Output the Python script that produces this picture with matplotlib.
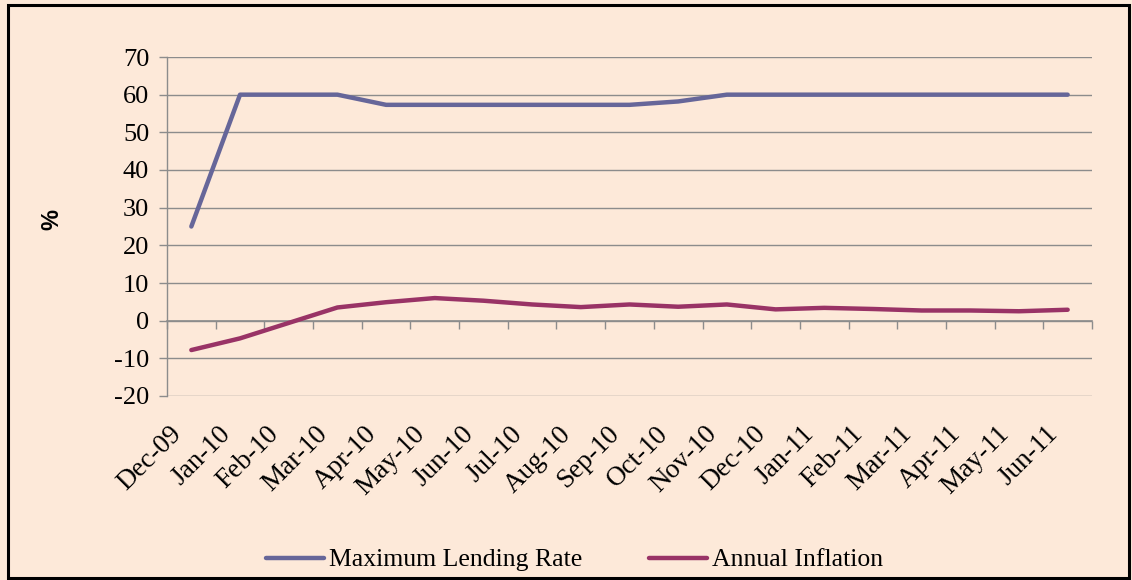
import matplotlib
matplotlib.use("Agg")
import matplotlib.pyplot as plt
import matplotlib.transforms as mtransforms
from matplotlib.patches import Rectangle

months = ["Dec-09", "Jan-10", "Feb-10", "Mar-10", "Apr-10", "May-10", "Jun-10",
          "Jul-10", "Aug-10", "Sep-10", "Oct-10", "Nov-10", "Dec-10", "Jan-11",
          "Feb-11", "Mar-11", "Apr-11", "May-11", "Jun-11"]
lending_rate = [25, 60, 60, 60, 57.3, 57.3, 57.3, 57.3, 57.3, 57.3, 58.2, 60,
                60, 60, 60, 60, 60, 60, 60]
inflation = [-7.8, -4.7, -0.6, 3.5, 4.9, 6.0, 5.3, 4.3, 3.6, 4.3, 3.7, 4.3,
             3.0, 3.4, 3.1, 2.7, 2.7, 2.5, 2.9]
y_ticks = [-20, -10, 0, 10, 20, 30, 40, 50, 60, 70]

BG = "#FDE9D9"
GRID = "#8C8C8C"
SERIF = "Liberation Serif"
W, H = 1132, 580

plt.rcParams["axes.unicode_minus"] = False

fig = plt.figure(figsize=(W / 100, H / 100), dpi=100, facecolor=BG)
ax = fig.add_axes([167 / W, 1 - 396 / H, (1092 - 167) / W, (396 - 57) / H])
ax.set_facecolor(BG)

x = list(range(len(months)))
ax.plot(x, lending_rate, color="#666699", lw=3.2, solid_capstyle="round",
        label="Maximum Lending Rate", zorder=3)
ax.plot(x, inflation, color="#993366", lw=3.2, solid_capstyle="round",
        label="Annual Inflation", zorder=3)

ymin, ymax = y_ticks[0], y_ticks[-1]
ax.set_xlim(-0.5, len(months) - 0.5)
ax.set_ylim(ymin, ymax)
ax.set_yticks(y_ticks)
ax.yaxis.grid(True, color=GRID, lw=1.0)
ax.set_axisbelow(True)

for s in ["top", "right", "bottom"]:
    ax.spines[s].set_visible(False)
ax.spines["left"].set_color(GRID)
ax.spines["left"].set_linewidth(1.0)

ax.tick_params(axis="y", length=5.8, width=1.0, color=GRID, pad=7,
               labelsize=19)
for t in ax.get_yticklabels():
    t.set_fontfamily(SERIF)

# category labels below the plot
ax.set_xticks(x)
ax.set_xticklabels(months, rotation=45, ha="right", va="baseline",
                   rotation_mode="anchor", fontsize=19.5, fontfamily=SERIF)
ax.tick_params(axis="x", length=0, pad=28)
shift = mtransforms.ScaledTranslation(-9 / 100, 0, fig.dpi_scale_trans)
for t in ax.get_xticklabels():
    t.set_transform(t.get_transform() + shift)

# horizontal axis line at zero with tick marks between categories
zero_loc = (0 - ymin) / (ymax - ymin)
sec = ax.secondary_xaxis(zero_loc)
sec.set_xticks([i - 0.5 for i in range(len(months) + 1)])
sec.set_xticklabels([])
sec.tick_params(length=5.8, width=1.0, color=GRID, direction="out")
sec.spines["bottom"].set_color(GRID)
sec.spines["bottom"].set_linewidth(1.2)

fig.text(52 / W, 1 - 220 / H, "%", rotation=90, ha="center", va="center",
         fontsize=17, fontweight="bold", fontfamily="Liberation Sans")

fig.legend(loc="center", bbox_to_anchor=(575 / W, 1 - 560 / H), ncol=2,
           frameon=False, prop={"family": SERIF, "size": 18.5},
           handlelength=2.25, handletextpad=0.2, columnspacing=2.6)

fig.patches.append(Rectangle((8 / W, 2 / H), (1129 - 8) / W, (575 - 2) / H,
                             transform=fig.transFigure, fill=False,
                             edgecolor="black", lw=2.2))

fig.savefig("out.png", dpi=100, facecolor=BG)
